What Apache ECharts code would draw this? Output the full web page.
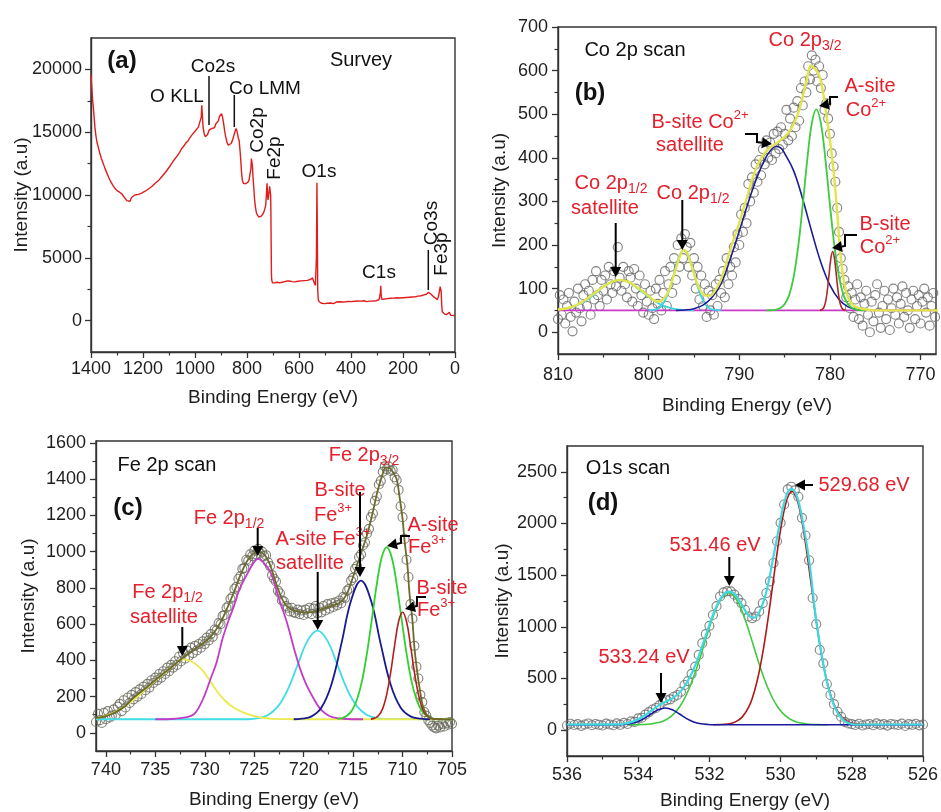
<!DOCTYPE html>
<html><head><meta charset="utf-8">
<script src="https://cdn.jsdelivr.net/npm/echarts@6/dist/echarts.min.js"></script>
<style>html,body{margin:0;padding:0;background:#fff}#c{width:941px;height:812px}</style>
</head><body><div id="c"></div>
<script>
// ---------------- (a) survey spectrum: [binding energy, intensity]
const SURVEY = [
[1400,19600],[1398,18900],[1396,18300],[1394,17600],[1391,17000],[1388,16200],[1385,15400],[1381,14700],[1377,14200],[1372,13800],
[1366,13300],[1360,12900],[1353,12500],[1346,12100],[1340,11800],[1333,11450],[1325,11100],[1317,10800],[1308,10530],[1300,10350],
[1292,10250],[1282,10100],[1275,9900],[1268,9800],[1262,9550],[1256,9650],[1250,9500],[1244,9800],[1238,9700],[1231,10000],
[1225,9850],[1218,10050],[1212,9900],[1205,10150],[1199,10050],[1192,10300],[1185,10250],[1178,10500],[1172,10450],[1167,10660],
[1160,10800],[1152,10950],[1145,11100],[1138,11200],[1128,11450],[1120,11650],[1112,11850],[1105,12000],[1098,12250],[1090,12500],
[1082,12750],[1075,12900],[1067,13150],[1059,13400],[1051,13700],[1043,13900],[1035,14150],[1027,14300],[1020,14550],[1013,14750],
[1006,14900],[999,15100],[992,15250],[987,15400],[980,15550],[976,16200],[974,17140],[972,16500],[969,15400],[965,14900],
[961,14650],[957,14550],[952,14800],[946,15160],[940,15050],[935,15300],[930,15420],[925,15350],[920,15650],[915,15550],
[910,15900],[906,16250],[902,16300],[898,16480],[894,16200],[890,15700],[886,15100],[882,14630],[877,14200],[872,13970],
[866,13900],[861,14100],[856,14350],[851,14700],[847,15000],[842,15290],[838,15050],[834,14600],[830,14300],[827,13600],
[824,12800],[821,11800],[818,11200],[814,10930],[810,10800],[806,10900],[801,10800],[797,11000],[792,11200],[788,11330],
[785,12100],[783,12900],[781,13040],[779,12300],[777,11450],[774,10600],[771,9700],[768,9100],[764,8600],[760,8410],
[755,8250],[750,8150],[746,8300],[742,8400],[737,8550],[732,8850],[728,9200],[725,10200],[723,10930],[721,10000],
[719,9600],[717,9900],[715,10300],[713,10700],[711,10790],[709,10000],[708,8500],[707,6000],[706,3800],[705,3250],
[702,3000],[699,2990],[694,3000],[689,2900],[684,3050],[680,2950],[675,3000],[670,2950],[665,3050],[660,3000],
[655,3100],[650,3050],[645,3150],[641,3300],[637,3150],[632,3050],[627,3100],[622,2990],[616,3080],[610,3050],
[604,3130],[598,3100],[592,3160],[586,3120],[580,3180],[574,3150],[568,3200],[562,3230],[556,3280],[551,3310],
[548,3400],[545,3250],[541,2990],[537,2800],[535,2720],[533,5000],[531,10980],[529.5,7000],[528,2500],[526,1670],
[522,1500],[519,1400],[514,1380],[508,1450],[502,1350],[496,1420],[490,1380],[484,1460],[478,1400],[472,1450],
[468,1350],[462,1430],[456,1480],[450,1420],[444,1500],[438,1450],[432,1480],[426,1430],[420,1500],[414,1470],
[408,1530],[404,1450],[398,1510],[392,1480],[386,1540],[380,1500],[374,1560],[368,1520],[362,1550],[356,1500],
[350,1580],[345,1540],[340,1510],[334,1570],[328,1550],[322,1600],[316,1560],[310,1620],[304,1580],[298,1640],
[292,1670],[289,1700],[287,2200],[285.5,2780],[284,2100],[282,1700],[278,1650],[272,1720],[266,1690],[260,1750],
[254,1720],[248,1780],[242,1750],[236,1790],[230,1760],[224,1820],[218,1790],[212,1800],[206,1850],[200,1820],
[194,1870],[188,1840],[182,1880],[176,1860],[170,1900],[164,1880],[158,1920],[152,1900],[147,1930],[142,1950],
[136,1920],[130,1980],[124,2000],[119,2050],[115,2060],[110,2100],[106,2200],[102,2250],[99,2300],[96,2200],
[92,2100],[88,1950],[84,1930],[80,1850],[76,1800],[72,1700],[68,1670],[64,1900],[60,2300],[57,2700],
[55,2780],[53,2300],[51,1200],[49,700],[47,610],[44,550],[40,520],[36,480],[32,480],[28,560],
[25,500],[22,660],[19,520],[16,420],[13,340],[10,450],[7,400],[4,480],[1,450],[0,470]
];

// ---------------- (b) Co 2p: measured points on a 0.2 eV grid from 810 eV downwards
const CO_START = 810, CO_STEP = 0.2;
const CO_DATA = [
30,85,40,75,20,60,90,35,2,70, 45,100,55,25,85,110,60,95,40,120,
75,140,85,60,120,95,130,75,150,110, 90,140,105,195,125,95,150,110,80,140,
125,70,145,100,60,130,85,45,110,70, 40,95,55,30,100,65,120,50,90,140,
60,110,150,90,170,120,200,150,215,170, 225,195,150,205,130,170,100,150,75,130,
60,110,35,95,50,85,40,110,60,120, 90,140,80,170,110,150,130,195,160,225,
200,270,230,285,250,340,300,355,320,385, 345,395,360,420,385,440,400,435,395,455,
410,460,420,470,430,455,510,440,490,450, 515,470,530,485,560,520,575,550,610,580,
635,600,625,575,610,560,590,510,525,490, 455,410,380,345,285,230,170,145,120,80,
105,55,90,35,75,110,30,80,15,65, 95,40,0,70,25,85,110,45,10,60,
95,30,75,5,55,100,40,80,20,65, 105,35,90,50,10,75,95,30,60,85,
20,70,100,45,80,15,60,90,35,5
];
const CO_BASE = [[810,50],[768.3,50]];
const CO_SAT = [[810,52],[809,55],[808,61],[807,72],[806,87],[805,104],[804,116],[803.2,120],[802.4,116],[802,112],[801,97],[800,81],[799,67],[798,58],[797,53],[796,51],[795,50]];
const CO_P12 = [[800,50],[799.6,51],[799.1,53],[798.6,60],[798.1,77],[797.6,105],[797.1,142],[796.6,175],[796.1,189],[795.6,175],[795.1,142],[794.6,105],[794.1,77],[793.6,60],[793.1,53],[792.6,51],[792,50]];
const CO_BSAT = [[797,50],[796,51],[795,54],[794,62],[793,80],[792,112],[791,168],[790,232],[789,298],[788,358],[787,403],[786.5,418],[786,426],[785.5,424],[785,410],[784,370],[783,305],[782,230],[781,160],[780,108],[779,75],[778,58],[777,52],[776,50]];
const CO_A = [[787,50],[786.5,50.3],[786,51.4],[785.5,55],[785,64],[784.5,85],[784,127],[783.5,197],[783,292],[782.5,396],[782,479],[781.5,511],[781,479],[780.5,396],[780,292],[779.5,197],[779,127],[778.5,85],[778,64],[777.5,55],[777,51.4],[776.5,50.3],[776,50]];
const CO_B = [[781.1,50],[780.9,51.5],[780.7,56],[780.5,68],[780.3,94],[780.1,132],[779.9,169],[779.7,185],[779.5,169],[779.3,132],[779.1,94],[778.9,68],[778.7,56],[778.5,51.5],[778.3,50]];
const CO_ENV = [[810,52],[809,55],[808,62],[807,74],[806,89],[805,104],[804,116],[803.2,120],[802.5,117],[802,113],[801,99],[800,83],[799.5,74],[799,70],[798.5,74],[798,86],[797.5,112],[797,145],[796.5,177],[796.1,189],[795.7,178],[795.2,148],[794.7,115],[794.2,93],[793.7,84],[793.2,84],[792.7,95],[792.2,112],[791.7,140],[791.2,175],[790.7,208],[790.2,238],[789.7,272],[789,320],[788.5,355],[788,383],[787.5,402],[787,416],[786.5,425],[786,432],[785.5,440],[785,448],[784.5,460],[784,478],[783.5,503],[783,540],[782.5,585],[782.1,612],[781.7,605],[781.2,590],[780.8,555],[780.4,500],[780,440],[779.6,370],[779.2,275],[778.8,170],[778.4,110],[778,80],[777.5,63],[777,57],[776,52],[775,50],[768,50]];

// ---------------- (c) Fe 2p: measured points on a 0.2 eV grid from 741 eV downwards
const FE_START = 741, FE_STEP = 0.2;
const FE_DATA = [
60,105,70,55,110,75,120,85,95,130, 100,145,160,120,180,140,195,165,210,185,
225,200,240,215,255,235,270,250,290,275, 305,290,325,305,340,325,360,340,375,360,
395,375,420,395,440,410,455,425,470,440, 480,455,490,470,505,490,525,510,545,530,
570,565,605,600,645,650,690,700,740,750, 795,805,850,865,905,910,955,950,985,975,
1005,985,1015,990,1000,975,980,940,920,870, 850,835,785,770,730,725,700,690,670,690,
665,660,680,655,675,650,680,660,690,655, 685,700,660,690,665,700,675,710,685,715,
695,720,705,730,715,750,745,785,795,840, 855,905,920,970,985,1035,1050,1100,1125,1190,
1210,1280,1305,1370,1390,1440,1470,1455,1470,1445, 1450,1410,1395,1340,1250,1190,1070,955,860,710,
630,480,365,300,210,170,115,95,70,55, 40,30,25,40,30,50,35,55,45,60, 50
];
const FE_SAT = [[741,80],[740,95],[739,118],[738,150],[737,190],[736,240],[735,288],[734,333],[733,378],[732.3,405],[731.5,398],[730.5,361],[729.5,290],[728.8,232],[728,180],[727.1,140],[726,110],[725.1,94],[724,82],[723,77],[721,75],[705,75]];
const FE_P12 = [[735,75],[733,78],[732,85],[731.1,103],[730.5,150],[730,210],[729.4,300],[728.8,390],[728.2,520],[727.6,620],[727.1,692],[726.5,790],[725.7,877],[725.1,935],[724.6,960],[724,935],[723.5,900],[723.1,850],[722.5,740],[721.7,610],[721,470],[720.4,360],[719.8,275],[719,190],[718.4,138],[717.7,103],[717,85],[716,78],[714,75]];
const FE_ASAT = [[741,75],[725.6,75],[724.6,81],[723.6,99],[722.6,146],[721.6,240],[720.6,377],[719.6,509],[718.6,564],[717.6,509],[716.6,377],[715.6,240],[714.6,146],[713.6,99],[712.6,81],[711.6,76],[705,75]];
const FE_B3 = [[721,75],[720.2,78],[719.2,91],[718.2,140],[717.2,266],[716.2,488],[715.2,731],[714.2,840],[713.2,731],[712.2,488],[711.2,266],[710.2,140],[709.2,91],[708.2,78],[707.2,75]];
const FE_A3 = [[716.6,77],[716.1,82],[715.6,96],[715.1,125],[714.6,185],[714.1,287],[713.6,439],[713.1,628],[712.6,822],[712.1,969],[711.6,1024],[711.1,969],[710.6,822],[710.1,628],[709.6,439],[709.1,287],[708.6,185],[708.1,125],[707.6,96],[707.1,82],[706.6,77],[706,75]];
const FE_B3B = [[713.2,76],[712.8,82],[712.4,97],[712,135],[711.6,212],[711.2,334],[710.8,484],[710.4,614],[710,665],[709.6,614],[709.2,484],[708.8,334],[708.4,212],[708,135],[707.6,97],[707.2,82],[706.8,76],[706,75]];
const FE_ENV = [[741,82],[740,92],[739,115],[738,150],[737.2,195],[736,245],[735,292],[734,335],[733,380],[732,424],[731,462],[730,501],[729.1,550],[728.4,610],[727.8,680],[727.1,770],[726.4,870],[725.8,940],[725.2,985],[724.6,1000],[724,985],[723.5,940],[723,860],[722.5,780],[722,720],[721.5,690],[721,675],[720.4,668],[719.5,665],[718.7,670],[718,685],[717,705],[716.3,720],[715.7,760],[715.2,830],[714.7,910],[714.2,990],[713.6,1090],[713,1220],[712.5,1340],[712,1430],[711.7,1465],[711.3,1460],[711,1440],[710.6,1400],[710.3,1300],[710,1180],[709.8,1060],[709.5,920],[709.3,770],[709,620],[708.8,470],[708.5,330],[708.2,220],[708,160],[707.7,115],[707.4,90],[707,78],[706,75],[705,75]];

// ---------------- (d) O 1s: measured points on a 0.1 eV grid from 536 eV downwards
const O_START = 536, O_STEP = 0.1;
const O_DATA = [
45,62,50,58,42,55,65,48,60,52, 45,63,55,48,66,52,70,60,85,80,
114,120,150,175,200,215,243,275,290,298, 323,340,372,437,475,545,615,728,842,930,
1010,1115,1200,1294,1333,1345,1343,1311,1270,1230, 1165,1100,1085,1100,1149,1230,1327,1440,1618,1828,
2006,2184,2330,2356,2320,2259,2055,1884,1644,1279, 1026,777,647,447,340,252,178,130,80,65,
58,50,62,45,55,60,48,66,52,58, 44,60,55,50,63,40,58,52,62,47, 55
];
const O_533 = [[536,52],[534.64,52.5],[534.44,55],[534.24,62],[534.04,80],[533.84,112],[533.64,156],[533.44,198],[533.24,215],[533.04,198],[532.84,156],[532.64,112],[532.44,80],[532.24,62],[532.04,55],[531.84,52.5],[531.6,52],[526,52]];
const O_531 = [[534.26,52],[534.06,53],[533.86,55],[533.66,60],[533.46,71],[533.26,94],[533.06,138],[532.86,214],[532.66,333],[532.46,498],[532.26,704],[532.06,927],[531.86,1132],[531.66,1277],[531.46,1330],[531.26,1277],[531.06,1132],[530.86,927],[530.66,704],[530.46,498],[530.26,333],[530.06,214],[529.86,138],[529.66,94],[529.46,71],[529.26,60],[529.06,55],[528.86,53],[528.66,52]];
const O_529 = [[531.9,52],[531.48,60],[531.28,78],[531.08,126],[530.88,235],[530.78,325],[530.68,447],[530.58,601],[530.48,791],[530.38,1012],[530.28,1257],[530.18,1511],[530.08,1760],[529.98,1982],[529.88,2159],[529.78,2271],[529.68,2310],[529.58,2271],[529.48,2159],[529.38,1982],[529.28,1760],[529.18,1511],[529.08,1257],[528.98,1012],[528.88,791],[528.78,601],[528.68,447],[528.58,325],[528.48,235],[528.28,126],[528.08,78],[527.88,60],[527.5,52]];
const O_ENV = [[536,55],[534.6,56],[534.4,62],[534.2,78],[534,105],[533.8,148],[533.6,197],[533.4,245],[533.2,280],[533,318],[532.8,378],[532.6,480],[532.4,625],[532.2,815],[532,1020],[531.8,1200],[531.6,1315],[531.45,1340],[531.3,1320],[531.1,1220],[530.9,1110],[530.75,1088],[530.6,1140],[530.4,1340],[530.2,1680],[530,2040],[529.85,2260],[529.7,2335],[529.55,2270],[529.4,2060],[529.2,1650],[529,1060],[528.8,640],[528.6,335],[528.4,170],[528.2,88],[528,60],[527.8,55],[526,55]];

// ---------------- tick values
const A_XLAB = [0,200,400,600,800,1000,1200,1400], A_XMIN = [100,300,500,700,900,1100,1300];
const A_YLAB = [0,5000,10000,15000,20000], A_YMIN = [2500,7500,12500,17500];
const B_XLAB = [770,780,790,800,810], B_XMIN = [775,785,795,805];
const B_YLAB = [0,100,200,300,400,500,600,700], B_YMIN = [50,150,250,350,450,550,650];
const C_XLAB = [705,710,715,720,725,730,735,740], C_XMIN = [707.5,712.5,717.5,722.5,727.5,732.5,737.5];
const C_YLAB = [0,200,400,600,800,1000,1200,1400,1600], C_YMIN = [100,300,500,700,900,1100,1300,1500];
const D_XLAB = [526,528,530,532,534,536], D_XMIN = [527,529,531,533,535];
const D_YLAB = [0,500,1000,1500,2000,2500], D_YMIN = [250,750,1250,1750,2250];

const F = '"Liberation Sans", Arial, Helvetica, sans-serif';
const AX = '#333333';
const RED = '#e3202b';
const XT = 'Binding Energy (eV)', YT = 'Intensity (a.u)';

function grid(pairsStart, step, vals) { return vals.map((v, i) => [+(pairsStart - step * i).toFixed(2), v]); }

function axes(dim, g, min, max, labels, minors, name, gap, margin) {
  const isX = dim === 'x';
  const base = {type: 'value', gridIndex: g, min: min, max: max, inverse: isX, position: isX ? 'bottom' : 'left', splitLine: {show: false}, axisPointer: {show: false}};
  const main = Object.assign({}, base, {
    axisLine: {show: true, onZero: false, lineStyle: {color: AX, width: 1.4}},
    axisTick: {show: true, inside: false, length: 6, customValues: labels, lineStyle: {color: AX, width: 1.3}},
    axisLabel: {show: true, customValues: labels, margin: margin, fontSize: 18, color: '#1e1e1e', fontFamily: F, formatter: v => String(v)},
    name: name, nameLocation: 'middle', nameGap: gap, nameMoveOverlap: false,
    nameTextStyle: {fontSize: 19, color: '#1e1e1e', fontFamily: F}
  });
  const minor = Object.assign({}, base, {
    axisLine: {show: false, onZero: false},
    axisTick: {show: true, inside: false, length: 3.5, customValues: minors, lineStyle: {color: AX, width: 1.2}},
    axisLabel: {show: false}
  });
  return [main, minor];
}

function line(g, data, color, width, smooth, z) {
  return {type: 'line', xAxisIndex: 2 * g, yAxisIndex: 2 * g, data: data, symbol: 'none', showSymbol: false,
    smooth: smooth, lineStyle: {color: color, width: width}, z: z || 3, silent: true, clip: true};
}
function scat(g, data, color, size) {
  return {type: 'scatter', xAxisIndex: 2 * g, yAxisIndex: 2 * g, data: data, symbol: 'circle', symbolSize: size,
    itemStyle: {color: 'rgba(255,255,255,0)', borderColor: color, borderWidth: 1.15}, z: 2, silent: true, clip: true};
}

// ---------- annotation helpers (pixel positions of labels/arrows)
function txt(x, y, text, o) {
  o = o || {};
  return {type: 'text', x: x, y: y, rotation: o.rot || 0, z: 100, silent: true,
    style: {text: text, fill: o.color || '#111', fontSize: o.size || 19, fontFamily: F, fontWeight: o.bold ? 'bold' : 'normal',
      align: 'center', verticalAlign: 'middle', rich: o.rich}};
}
function rtxt(x, y, text) {
  return txt(x, y, text, {color: RED, rich: {
    n: {fontSize: 20, fontFamily: F, fill: RED, lineHeight: 26},
    s: {fontSize: 14, fontFamily: F, fill: RED, verticalAlign: 'bottom', lineHeight: 16},
    p: {fontSize: 13, fontFamily: F, fill: RED, verticalAlign: 'top', lineHeight: 14}
  }});
}
function arrow(pts) {
  const n = pts.length, a = pts[n - 2], b = pts[n - 1];
  const ang = Math.atan2(b[1] - a[1], b[0] - a[0]), L = 10, W = 5.5;
  const bx = b[0] - L * Math.cos(ang), by = b[1] - L * Math.sin(ang);
  const head = [[b[0], b[1]], [bx - W * Math.sin(ang), by + W * Math.cos(ang)], [bx + W * Math.sin(ang), by - W * Math.cos(ang)]];
  return [
    {type: 'polyline', z: 100, silent: true, shape: {points: pts.slice(0, n - 1).concat([[bx, by]])}, style: {stroke: '#000', lineWidth: 2, fill: null}},
    {type: 'polygon', z: 100, silent: true, shape: {points: head}, style: {fill: '#000'}}
  ];
}
function vline(x, y1, y2) {
  return {type: 'line', z: 100, silent: true, shape: {x1: x, y1: y1, x2: x, y2: y2}, style: {stroke: '#111', lineWidth: 1.5}};
}

const graphics = [].concat(
  // (a)
  [txt(122, 61, '(a)', {bold: true, size: 24}), txt(361, 60, 'Survey', {size: 20}), txt(177, 97, 'O KLL'), txt(213, 67, 'Co2s'),
   txt(265, 89, 'Co LMM'), txt(257.5, 130, 'Co2p', {rot: Math.PI / 2}), txt(275, 158, 'Fe2p', {rot: Math.PI / 2}),
   txt(319, 172, 'O1s'), txt(379, 273, 'C1s'), txt(432, 223, 'Co3s', {rot: Math.PI / 2}), txt(442, 254, 'Fe3p', {rot: Math.PI / 2}),
   vline(209, 76, 125), vline(234.3, 95, 127), vline(428.3, 250, 290)],
  // (b)
  [txt(635, 50, 'Co 2p scan', {size: 20}), txt(590, 93, '(b)', {bold: true, size: 24}),
   rtxt(805, 40, '{n|Co 2p}{s|3/2}'), rtxt(870, 86, '{n|A-site}'), rtxt(866, 110, '{n|Co}{p|2+}'),
   rtxt(700, 122, '{n|B-site Co}{p|2+}'), rtxt(690, 145, '{n|satellite}'),
   rtxt(611, 183, '{n|Co 2p}{s|1/2}'), rtxt(605, 208, '{n|satellite}'), rtxt(693, 193, '{n|Co 2p}{s|1/2}'),
   rtxt(885, 224, '{n|B-site}'), rtxt(880, 247, '{n|Co}{p|2+}')],
  arrow([[615.7, 223], [615.7, 277]]), arrow([[682.3, 200], [682.3, 250]]),
  arrow([[838, 97], [830, 97], [830, 104], [819, 106]]),
  arrow([[745, 134], [757, 134], [757, 142], [772, 144]]),
  arrow([[857, 235], [845, 235], [845, 246], [832, 248]]),
  // (c)
  [txt(167, 465, 'Fe 2p scan', {size: 20}), txt(128, 508, '(c)', {bold: true, size: 24}),
   rtxt(364, 455, '{n|Fe 2p}{s|3/2}'), rtxt(229, 518, '{n|Fe 2p}{s|1/2}'),
   rtxt(340, 490, '{n|B-site}'), rtxt(333, 515, '{n|Fe}{p|3+}'),
   rtxt(323, 539, '{n|A-site Fe}{p|3+}'), rtxt(310, 563, '{n|satellite}'),
   rtxt(167.5, 592, '{n|Fe 2p}{s|1/2}'), rtxt(164, 617, '{n|satellite}'),
   rtxt(433, 525, '{n|A-site}'), rtxt(427, 547, '{n|Fe}{p|3+}'),
   rtxt(442, 588, '{n|B-site}'), rtxt(436, 610, '{n|Fe}{p|3+}')],
  arrow([[257.7, 528], [257.7, 556]]), arrow([[360, 492], [360, 577]]), arrow([[317.7, 572], [317.7, 630]]),
  arrow([[182.3, 627], [182.3, 656]]),
  arrow([[410, 536], [401, 536], [401, 543], [387, 546]]),
  arrow([[426, 597], [417, 597], [417, 606], [405, 609]]),
  // (d)
  [txt(628, 468, 'O1s scan', {size: 20}), txt(603, 503, '(d)', {bold: true, size: 24}),
   rtxt(864, 485, '{n|529.68 eV}'), rtxt(715, 545, '{n|531.46 eV}'), rtxt(644, 657, '{n|533.24 eV}')],
  arrow([[813, 485], [795, 485]]), arrow([[729.3, 557], [729.3, 586]]), arrow([[661, 673], [661, 703]])
);

const option = {
  animation: false,
  backgroundColor: '#ffffff',
  grid: [
    {left: 91, top: 38, width: 364, height: 314, show: true, borderColor: AX, borderWidth: 1.4},
    {left: 558, top: 27, width: 378, height: 327, show: true, borderColor: AX, borderWidth: 1.4},
    {left: 96, top: 441, width: 356, height: 310, show: true, borderColor: AX, borderWidth: 1.4},
    {left: 567, top: 446, width: 358, height: 310, show: true, borderColor: AX, borderWidth: 1.4}
  ],
  xAxis: [].concat(
    axes('x', 0, 0, 1400, A_XLAB, A_XMIN, XT, 36, 8),
    axes('x', 1, 768.3, 810, B_XLAB, B_XMIN, XT, 42, 12),
    axes('x', 2, 705, 741, C_XLAB, C_XMIN, XT, 39, 10),
    axes('x', 3, 526, 536, D_XLAB, D_XMIN, XT, 35, 10)
  ),
  yAxis: [].concat(
    axes('y', 0, -2500, 22500, A_YLAB, A_YMIN, YT, 59.5, 9),
    axes('y', 1, -50, 700, B_YLAB, B_YMIN, YT, 49, 10),
    axes('y', 2, -100, 1610, C_YLAB, C_YMIN, YT, 58, 10),
    axes('y', 3, -250, 2750, D_YLAB, D_YMIN, YT, 55, 10)
  ),
  series: [
    line(0, SURVEY, '#e01c1c', 1.4, false, 3),
    // (b)
    scat(1, grid(CO_START, CO_STEP, CO_DATA), '#666666', 9),
    line(1, CO_BASE, '#c83cc8', 1.8, false, 3),
    line(1, CO_SAT, '#3fd6e0', 1.8, 0.4, 4),
    line(1, CO_P12, '#3fd6e0', 1.8, 0.4, 4),
    line(1, CO_BSAT, '#1c1c96', 1.6, 0.4, 4),
    line(1, CO_A, '#3ccc3c', 1.8, 0.4, 4),
    line(1, CO_B, '#a82a2a', 1.6, 0.4, 4),
    line(1, CO_ENV, '#e2e44c', 2.4, 0.4, 5),
    // (c)
    scat(2, grid(FE_START, FE_STEP, FE_DATA), '#66665a', 9),
    line(2, FE_ASAT, '#40dde6', 1.8, 0.4, 3),
    line(2, FE_SAT, '#eaea50', 1.8, 0.4, 3),
    line(2, FE_P12, '#c23cc8', 1.8, 0.4, 4),
    line(2, FE_B3, '#1a1a90', 1.8, 0.4, 4),
    line(2, FE_A3, '#30d030', 1.8, 0.4, 4),
    line(2, FE_B3B, '#b02020', 1.6, 0.4, 4),
    line(2, FE_ENV, '#6b6b2a', 1.8, 0.4, 5),
    // (d)
    scat(3, grid(O_START, O_STEP, O_DATA), '#6a6a6a', 9),
    line(3, O_531, '#40c840', 1.6, 0.4, 3),
    line(3, O_529, '#b01818', 1.6, 0.4, 3),
    line(3, O_533, '#1a1aa0', 1.6, 0.4, 4),
    line(3, O_ENV, '#40d8e0', 2.2, 0.4, 5)
  ],
  graphic: graphics
};

const chart = echarts.init(document.getElementById('c'), null, {renderer: 'canvas'});
chart.setOption(option);
</script></body></html>
